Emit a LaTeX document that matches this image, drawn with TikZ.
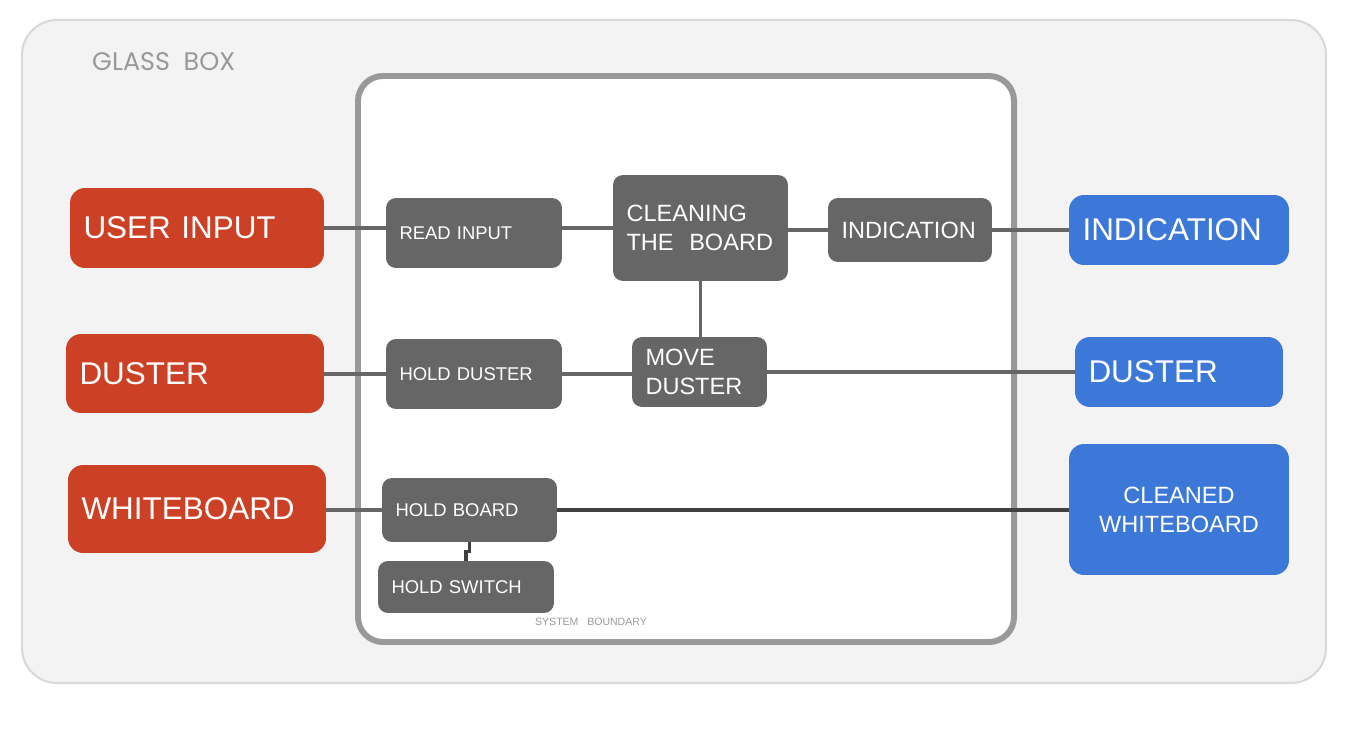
\documentclass[tikz,border=0pt]{standalone}
\usepackage{fontspec}
\setmainfont{Liberation Sans}
\newfontfamily\glassfont{Poppins}
\definecolor{srcred}{HTML}{CC4125}
\definecolor{dstblue}{HTML}{3C78D8}
\definecolor{boxgray}{HTML}{666666}
\definecolor{glassfill}{HTML}{F3F3F3}
\definecolor{glassline}{HTML}{D9D9D9}
\definecolor{sysgray}{HTML}{999999}
\begin{document}
\begin{tikzpicture}[x=0.02cm,y=0.02cm,
    blk/.style={rounded corners=0.2cm, fill=boxgray, text=white, inner xsep=0.27cm, inner ysep=0pt, align=left},
    ext/.style={blk, rounded corners=0.3cm},
    src/.style={ext, fill=srcred},
    dst/.style={ext, fill=dstblue},
    big/.style={font=\fontsize{17.9}{21}\selectfont},
    mid/.style={font=\fontsize{13.4}{16.5}\selectfont},
    sml/.style={font=\fontsize{10.5}{12.6}\selectfont},
    link/.style={draw=boxgray, line width=2pt}]
  \useasboundingbox (0,0) rectangle (1348,-729);
  % glass box and system boundary
  \draw[draw=glassline, fill=glassfill, line width=1.2pt, rounded corners=0.7cm] (22,-20) rectangle (1326,-683);
  \node[anchor=west, text=sysgray, font=\glassfont\fontsize{14.5}{17}\selectfont] (gb) at (86,-62) {GLASS\ \ BOX};
  \draw[draw=sysgray, fill=white, line width=3.4pt, rounded corners=0.5cm] (358,-76) rectangle (1014,-642);
  \node[text=sysgray, font=\fontsize{6}{7}\selectfont] (sb) at (591,-622) {SYSTEM\ \ \ BOUNDARY};

  % inputs
  \node[src, big, text width=4.54cm, minimum height=1.6cm] (ui) at (197,-228) {USER INPUT};
  \node[src, big, text width=4.62cm, minimum height=1.58cm] (du) at (195,-373.5) {DUSTER};
  \node[src, big, text width=4.62cm, minimum height=1.76cm] (wb) at (197,-509) {WHITEBOARD};

  % system blocks
  \node[blk, sml, text width=2.98cm, minimum height=1.4cm] (ri) at (474,-233) {READ INPUT};
  \node[blk, mid, text width=2.96cm, minimum height=2.12cm] (cb) at (700.5,-228) {CLEANING\\THE\ \ BOARD};
  \node[blk, mid, text width=2.74cm, minimum height=1.28cm] (ind) at (910,-230) {INDICATION};
  \node[blk, sml, text width=2.98cm, minimum height=1.4cm] (hd) at (474,-374) {HOLD DUSTER};
  \node[blk, mid, text width=2.16cm, minimum height=1.4cm] (md) at (699.5,-372) {MOVE\\DUSTER};
  \node[blk, sml, text width=2.96cm, minimum height=1.28cm] (hb) at (469.5,-510) {HOLD BOARD};
  \node[blk, sml, text width=2.98cm, minimum height=1.04cm] (hs) at (466,-587) {HOLD SWITCH};

  % outputs
  \node[dst, big, text width=3.86cm, minimum height=1.4cm] (io) at (1179,-230) {INDICATION};
  \node[dst, big, text width=3.62cm, minimum height=1.4cm] (dout) at (1179,-372) {DUSTER};
  \node[dst, mid, align=center, text width=3.86cm, minimum height=2.62cm] (cw) at (1179,-509.5) {CLEANED\\WHITEBOARD};

  % connectors
  \draw[link] (ui.east) -- (ui.east -| ri.west);
  \draw[link] (cb.west) -- (cb.west -| ri.east);
  \draw[link] (ind.west) -- (ind.west -| cb.east);
  \draw[link] (ind.east) -- (ind.east -| io.west);
  \draw[link] (cb.south) -- (cb.south |- md.north);
  \draw[link] (hd.west) -- (hd.west -| du.east);
  \draw[link] (hd.east) -- (hd.east -| md.west);
  \draw[link] (md.east) -- (md.east -| dout.west);
  \draw[link] (hb.west) -- (hb.west -| wb.east);
  \draw[link, draw=black!75] (hb.east) -- (hb.east -| cw.west);
  \draw[link, draw=black!75] (hb.south) -- ++(0,-9) -| (hs.north);
\end{tikzpicture}
\end{document}
